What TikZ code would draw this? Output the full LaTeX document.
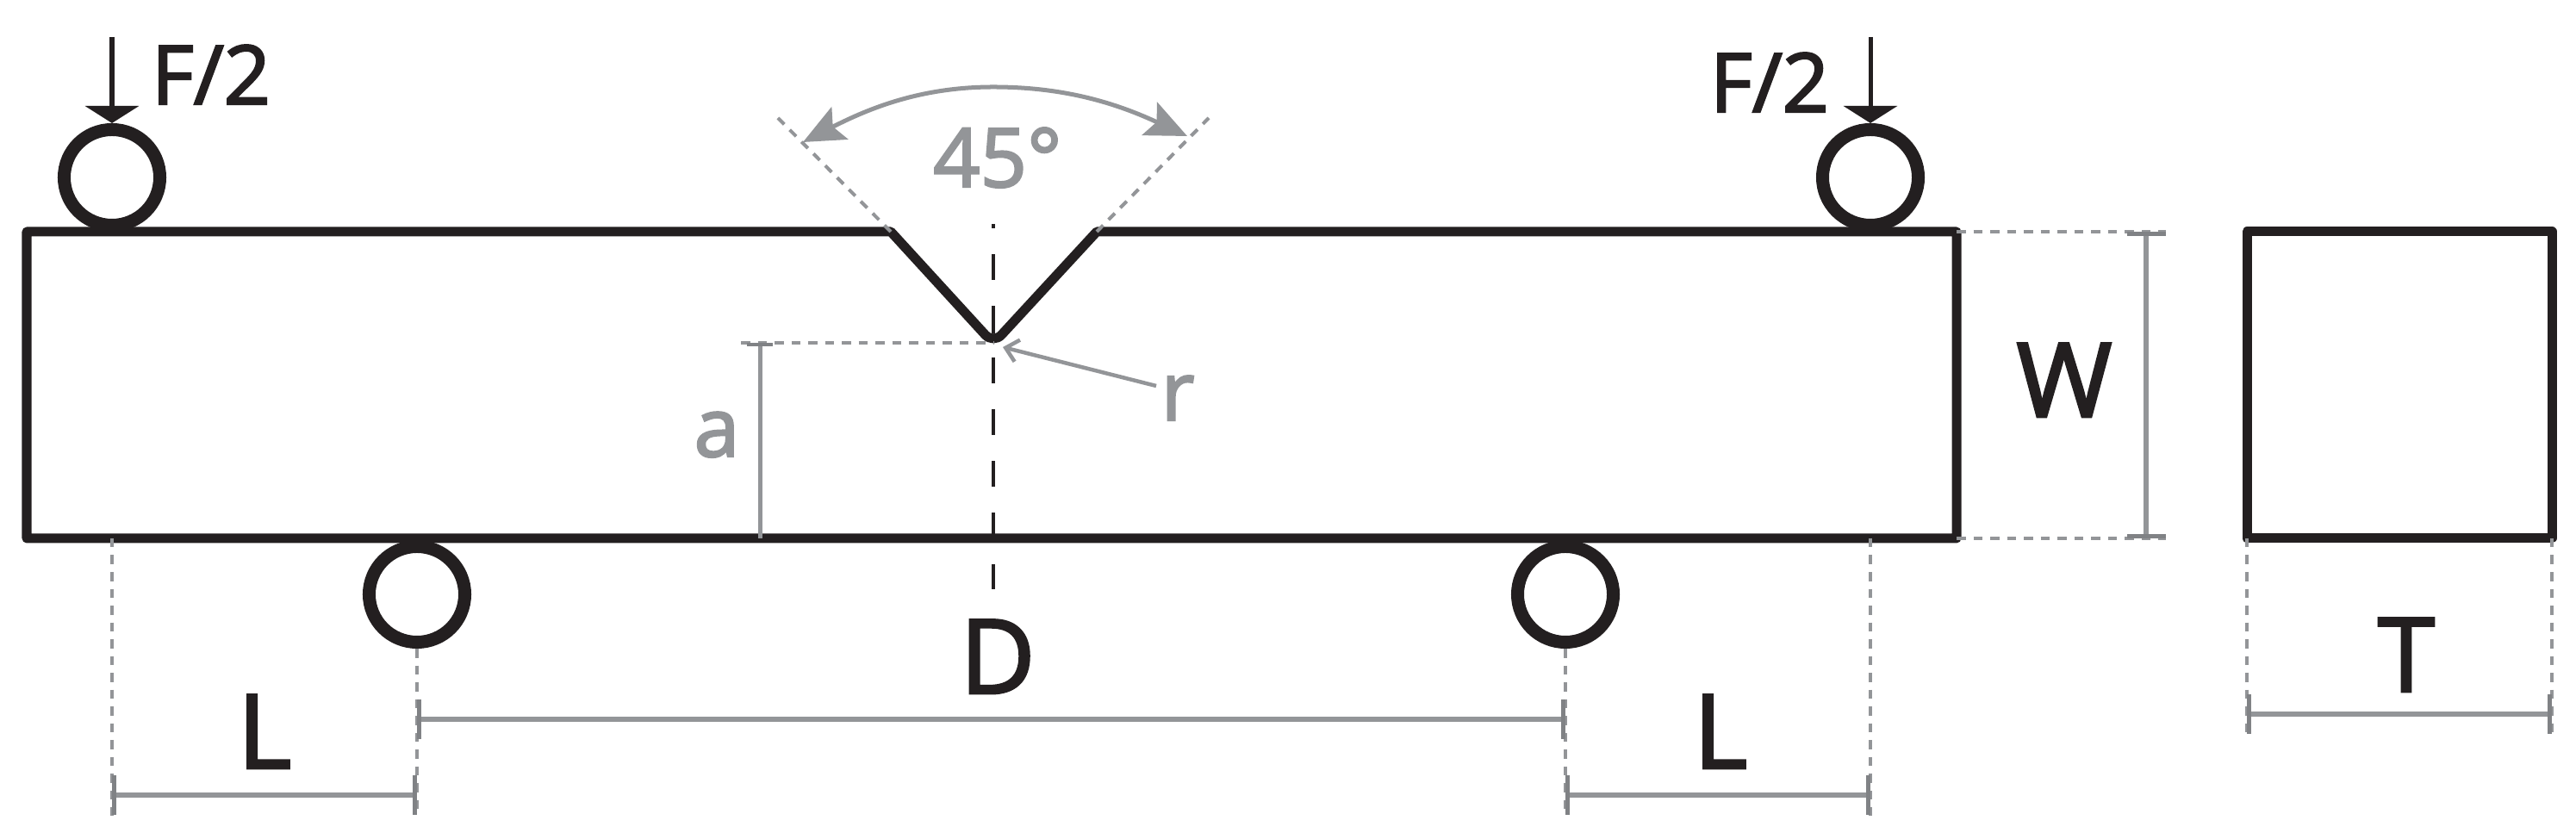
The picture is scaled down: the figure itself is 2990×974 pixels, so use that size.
\documentclass[tikz,border=0pt]{standalone}
\usepackage{fontspec}
\setmainfont[RawFeature={embolden=2.5}]{Open Sans}
\usetikzlibrary{arrows.meta}
\definecolor{ink}{HTML}{231F20}
\definecolor{pale}{HTML}{939598}
\definecolor{tickgrey}{HTML}{808285}
\tikzset{
  beam/.style = {draw = ink, line width = .11cm, line join = round},
  roller/.style = {circle, draw = ink, line width = .15cm, minimum size = 1.11cm, inner sep = 0pt},
  force/.style = {draw = ink, line width = .05cm, -{Triangle[length = .2cm, width = .62cm]}},
  witness/.style = {draw = pale, line width = .04cm, dash pattern = on .105cm off .09cm},
  dimline/.style = {draw = pale, line width = .06cm, {Bar[width = .45cm, line width = .05cm, color = tickgrey]}-{Bar[width = .45cm, line width = .05cm, color = tickgrey]}},
  bigtext/.style = {anchor = base, inner sep = 0pt, text = ink, font = \fontsize{34}{34}\selectfont},
  midtext/.style = {anchor = base, inner sep = 0pt, text = ink, font = \fontsize{27}{27}\selectfont},
  paletext/.style = {anchor = base, inner sep = 0pt, text = pale, font = \fontsize{27}{27}\selectfont}
}
\begin{document}
\begin{tikzpicture}[x = .01cm, y = -.01cm]
\useasboundingbox (0,0) rectangle (2990,974);
% specimen
\coordinate (notchL) at (1034,269);
\coordinate (notchR) at (1273,269);
\coordinate (notchTip) at (1153,399);
\draw[beam] (31,269) -- (notchL) {[rounded corners = .14cm] -- (notchTip)} -- (notchR) -- (2271,269) -- (2271,625) -- (31,625) -- cycle;
\draw[beam] (2608,269) rectangle (2962,625);
% rollers and loads
\node[roller] (rollTL) at (130,206) {};
\node[roller] (rollTR) at (2171,206) {};
\node[roller] (rollBL) at (484,690) {};
\node[roller] (rollBR) at (1817,690) {};
\coordinate (forceL) at (130,43);
\coordinate (forceR) at (2171,43);
\draw[force] (forceL) -- (rollTL.north);
\draw[force] (forceR) -- (rollTR.north);
\node[midtext] (labFL) at (245,121) {F/2};
\node[midtext] (labFR) at (2054,130) {F/2};
% notch
\coordinate (angL) at (903,137);
\coordinate (angR) at (1403,137);
\coordinate (arcL) at (932,165);
\coordinate (arcTop) at (1153,101);
\coordinate (arcR) at (1378,158);
\draw[witness] (notchL) -- (angL);
\draw[witness] (notchR) -- (angR);
\draw[draw = pale, line width = .05cm, {Stealth[length = .48cm, width = .42cm, inset = .09cm]}-{Stealth[length = .48cm, width = .42cm, inset = .09cm]}]
  (arcL) .. controls (1010,125) and (1070,101) .. (arcTop) .. controls (1240,101) and (1300,122) .. (arcR);
\node[paletext] (labAng) at (1158,217) {45°};
\coordinate (axisTop) at (1153,260);
\coordinate (axisEnd) at (1153,684);
\draw[draw = ink, line width = .04cm, dash pattern = on .05cm off .3cm on .3cm off .3cm on .32cm off .28cm on .3cm off .3cm on .3cm off .3cm on .3cm off .3cm on .3cm off .3cm on .3cm off .3cm] (axisTop) -- (axisEnd);
\coordinate (tipLeft) at (860,398);
\coordinate (tipMid) at (1153,398);
\coordinate (aTop) at (882,398);
\coordinate (aEnd) at (882,625);
\draw[witness] (tipLeft) -- (tipMid);
\draw[draw = pale, line width = .05cm, {Bar[width = .3cm, line width = .045cm, color = tickgrey]}-] (aTop) -- (aEnd);
\node[paletext] (labA) at (832,530) {a};
\coordinate (rStart) at (1342,448);
\coordinate (rEnd) at (1164,403);
\draw[draw = pale, line width = .045cm, -{Straight Barb[length = .14cm, width = .26cm]}] (rStart) -- (rEnd);
\node[paletext] (labR) at (1367,488) {r};
% dimensions below
\coordinate (w1) at (130,625);
\coordinate (w1e) at (130,947);
\coordinate (w2e) at (484,947);
\coordinate (w3e) at (1817,947);
\coordinate (w4) at (2171,625);
\coordinate (w4e) at (2171,947);
\draw[witness] (w1) -- (w1e);
\draw[witness] (rollBL.south) -- (w2e);
\draw[witness] (rollBR.south) -- (w3e);
\draw[witness] (w4) -- (w4e);
\coordinate (dimLa) at (130,923);
\coordinate (dimLb) at (484,923);
\coordinate (dimDa) at (484,835);
\coordinate (dimDb) at (1817,835);
\coordinate (dimRa) at (1817,923);
\coordinate (dimRb) at (2171,923);
\draw[dimline] (dimLa) -- (dimLb);
\draw[dimline] (dimDa) -- (dimDb);
\draw[dimline] (dimRa) -- (dimRb);
\node[bigtext] (labL) at (307,892) {L};
\node[bigtext] (labD) at (1158,805) {D};
\node[bigtext] (labLr) at (1997,892) {L};
% height and thickness
\coordinate (h1) at (2271,269);
\coordinate (h1e) at (2514,269);
\coordinate (h2) at (2271,625);
\coordinate (h2e) at (2514,625);
\draw[witness] (h1) -- (h1e);
\draw[witness] (h2) -- (h2e);
\coordinate (dimWa) at (2491,269);
\coordinate (dimWb) at (2491,625);
\draw[dimline] (dimWa) -- (dimWb);
\node[bigtext] (labW) at (2396,484) {W};
\coordinate (t1) at (2608,625);
\coordinate (t1e) at (2608,853);
\coordinate (t2) at (2962,625);
\coordinate (t2e) at (2962,853);
\draw[witness] (t1) -- (t1e);
\draw[witness] (t2) -- (t2e);
\coordinate (dimTa) at (2608,829);
\coordinate (dimTb) at (2962,829);
\draw[dimline] (dimTa) -- (dimTb);
\node[bigtext] (labT) at (2793,803) {T};
\end{tikzpicture}
\end{document}
